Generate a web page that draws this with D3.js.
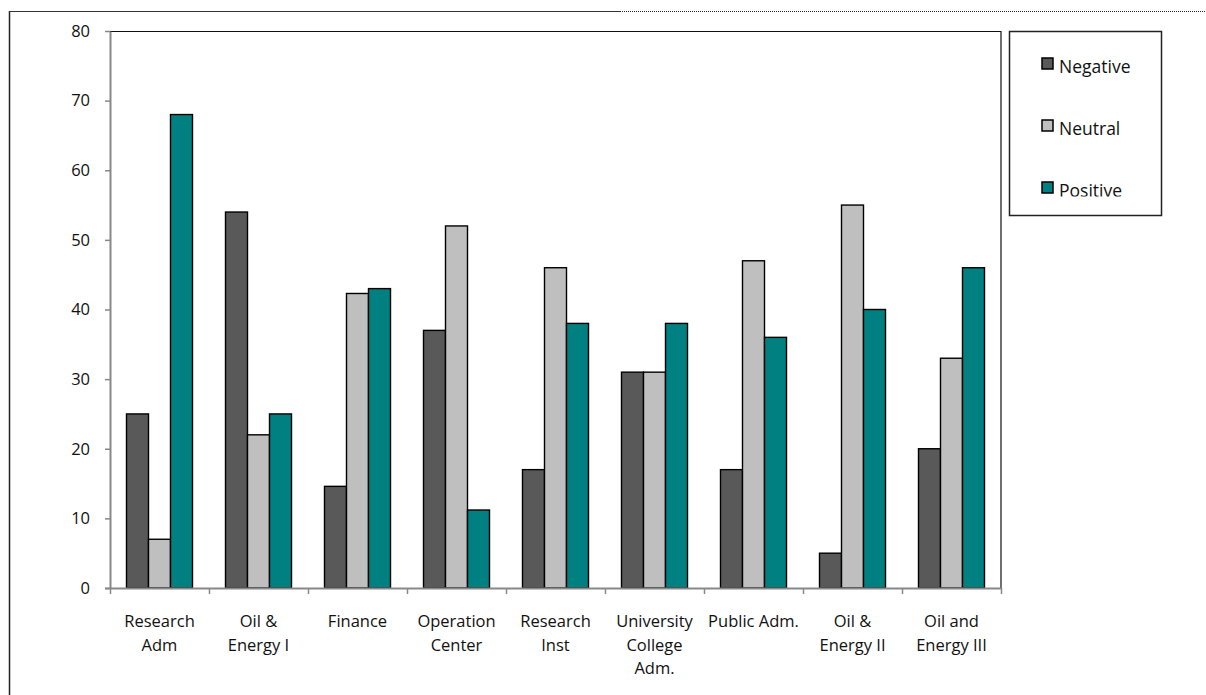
<!DOCTYPE html>
<html>
<head>
<meta charset="utf-8">
<script src="https://cdn.jsdelivr.net/npm/d3@7"></script>
<style>
  body { margin: 0; background: #fff; }
  svg { display: block; font-family: "Open Sans", sans-serif; }
</style>
</head>
<body>
<div id="canvas"></div>
<script>
// categories, series and values
const categories = [
  "Research Adm", "Oil & Energy I", "Finance", "Operation Center",
  "Research Inst", "University College Adm.", "Public Adm.",
  "Oil & Energy II", "Oil and Energy III"
];
const categoryLines = [
  ["Research", "Adm"], ["Oil &", "Energy I"], ["Finance"], ["Operation", "Center"],
  ["Research", "Inst"], ["University", "College", "Adm."], ["Public Adm."],
  ["Oil &", "Energy II"], ["Oil and", "Energy III"]
];
const seriesNames = ["Negative", "Neutral", "Positive"];
const negative = [25, 54, 14.6, 37, 17, 31, 17, 5, 20];
const neutral  = [7, 22, 42.3, 52, 46, 31, 47, 55, 33];
const positive = [68, 25, 43, 11.2, 38, 38, 36, 40, 46];
const yTicks = [0, 10, 20, 30, 40, 50, 60, 70, 80];

const colors = { Negative: "#595959", Neutral: "#bfbfbf", Positive: "#008080" };
const seriesValues = { Negative: negative, Neutral: neutral, Positive: positive };

const width = 1206;
const height = 695;
const margin = { top: 31, left: 110, bottom: 107, right: 205 };
const iwidth = width - margin.left - margin.right;
const iheight = height - margin.top - margin.bottom;

const svg = d3.select("#canvas").append("svg")
  .attr("width", width)
  .attr("height", height);

// outer frame (left side and top edge, partly dotted)
svg.append("line").attr("x1", 9.5).attr("x2", 9.5).attr("y1", 11).attr("y2", height)
  .attr("stroke", "#222").attr("stroke-width", 1.5);
svg.append("line").attr("x1", 9).attr("x2", 620).attr("y1", 11.5).attr("y2", 11.5)
  .attr("stroke", "#333").attr("stroke-width", 1.2);
svg.append("line").attr("x1", 620).attr("x2", width).attr("y1", 11.5).attr("y2", 11.5)
  .attr("stroke", "#222").attr("stroke-width", 1.2).attr("stroke-dasharray", "1,1");

const g = svg.append("g").attr("transform", `translate(${margin.left},${margin.top})`);

const y = d3.scaleLinear().domain([0, 80]).range([iheight, 0]);
const x0 = d3.scaleBand().domain(categories).range([0, iwidth]).padding(0);
const bw = x0.bandwidth();
const x1 = d3.scaleBand().domain(seriesNames).range([bw / 6, bw * 5 / 6]).padding(0);

// plot area border (top and right)
g.append("path")
  .attr("d", `M0,0.5H${iwidth}V${iheight}`)
  .attr("fill", "none").attr("stroke", "#111").attr("stroke-width", 1.2);

// bars
const groups = g.selectAll("g.cat").data(categories).enter().append("g")
  .attr("class", "cat")
  .attr("transform", d => `translate(${x0(d)},0)`);

groups.selectAll("rect")
  .data((d, i) => seriesNames.map(s => ({ s, v: seriesValues[s][i] })))
  .enter().append("rect")
  .attr("x", d => x1(d.s))
  .attr("y", d => y(d.v))
  .attr("width", x1.bandwidth())
  .attr("height", d => iheight - y(d.v))
  .attr("fill", d => colors[d.s])
  .attr("stroke", "#000")
  .attr("stroke-width", 1.4);

// y axis
const yAxis = g.append("g")
  .call(d3.axisLeft(y).tickValues(yTicks).tickSize(5).tickPadding(15).tickSizeOuter(0));
yAxis.select(".domain").attr("stroke", "#888").attr("stroke-width", 2);
yAxis.selectAll(".tick line").attr("stroke", "#888").attr("stroke-width", 1.5);
yAxis.selectAll(".tick text").attr("font-size", 16.5).attr("fill", "#111")
  .attr("font-family", "Open Sans, sans-serif");

// x axis with ticks at category boundaries
const xb = d3.scaleLinear().domain([0, categories.length]).range([0, iwidth]);
const xAxis = g.append("g").attr("transform", `translate(0,${iheight})`)
  .call(d3.axisBottom(xb).ticks(categories.length).tickSize(6).tickFormat("").tickSizeOuter(0));
xAxis.select(".domain").attr("stroke", "#888").attr("stroke-width", 2)
  .attr("d", `M-5,0.5H${iwidth}`);
xAxis.selectAll(".tick line").attr("stroke", "#888").attr("stroke-width", 1.5);

// category labels
const labels = g.append("g").attr("transform", `translate(0,${iheight})`)
  .selectAll("text").data(categories).enter().append("text")
  .attr("x", d => x0(d) + bw / 2)
  .attr("y", 39)
  .attr("text-anchor", "middle")
  .attr("font-size", 16.5)
  .attr("fill", "#111");
labels.selectAll("tspan")
  .data((d, i) => categoryLines[i])
  .enter().append("tspan")
  .attr("x", function () { return d3.select(this.parentNode).attr("x"); })
  .attr("dy", (d, i) => i === 0 ? 0 : 23.5)
  .text(d => d);

// legend (last entry is cut off at the bottom, as in the source)
const lg = svg.append("g").attr("transform", "translate(1009,31)");
svg.append("clipPath").attr("id", "legclip")
  .append("rect").attr("x", 0).attr("y", 0).attr("width", 152).attr("height", 165.5);
lg.append("rect").attr("x", 0.5).attr("y", 0.5).attr("width", 152).attr("height", 184)
  .attr("fill", "#fff").attr("stroke", "#222").attr("stroke-width", 1.5);
const items = lg.append("g").attr("clip-path", "url(#legclip)")
  .selectAll("g").data(seriesNames).enter().append("g")
  .attr("transform", (d, i) => `translate(33,${27 + i * 62})`);
items.append("rect").attr("width", 11).attr("height", 11)
  .attr("fill", d => colors[d]).attr("stroke", "#000").attr("stroke-width", 1.5);
items.append("text").attr("x", 17).attr("y", 14.5).attr("font-size", 17.5)
  .attr("fill", "#111").text(d => d);
</script>
</body>
</html>
